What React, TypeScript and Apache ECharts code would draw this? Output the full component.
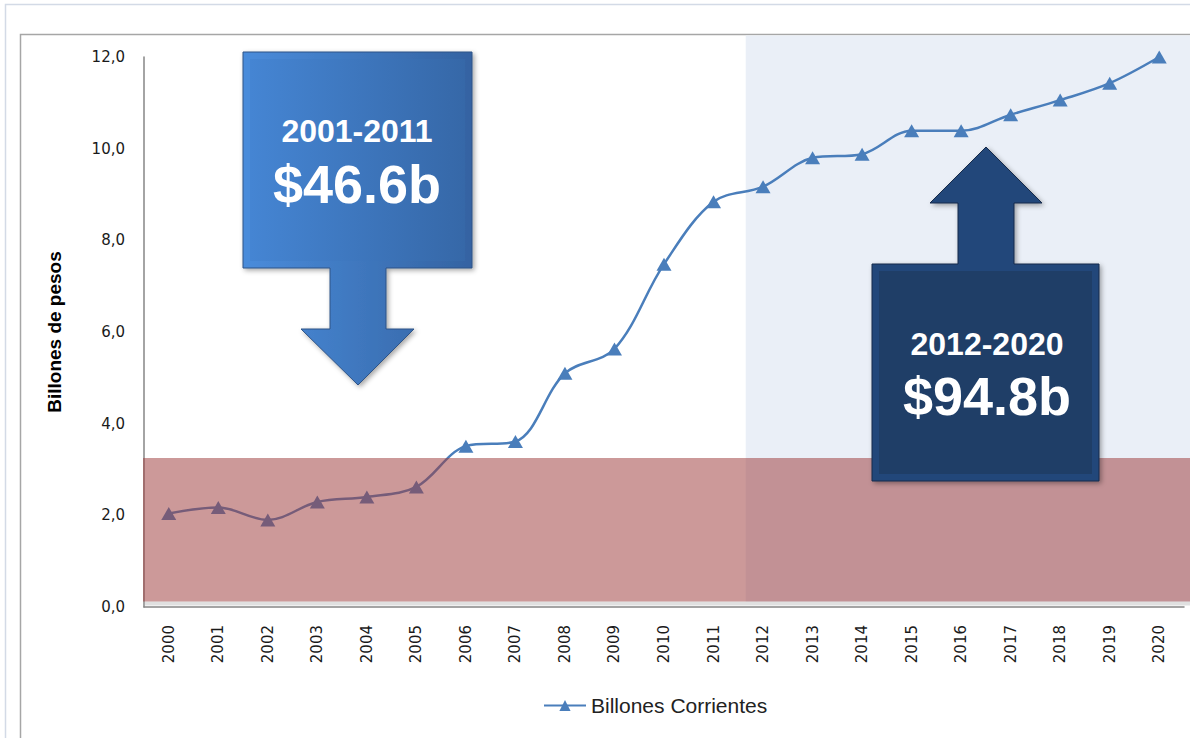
import React, { useEffect, useRef } from "react";
import * as echarts from "echarts";

const years = [
  "2000", "2001", "2002", "2003", "2004", "2005", "2006", "2007", "2008", "2009", "2010",
  "2011", "2012", "2013", "2014", "2015", "2016", "2017", "2018", "2019", "2020",
];
const billones = [
  2.04, 2.17, 1.9, 2.29, 2.4, 2.62, 3.51, 3.61, 5.1, 5.63, 7.48,
  8.84, 9.17, 9.8, 9.88, 10.39, 10.39, 10.74, 11.06, 11.43, 12.0,
];
const seriesName = "Billones Corrientes";
const yAxisTitle = "Billones de pesos";
const yTicks = { min: 0, max: 12, interval: 2 };
// annotation extents in data units
const bandRange = [0.12, 3.25];
const recentFromIndex = 11.65;
const leftLabel = ["2001-2011", "$46.6b"];
const rightLabel = ["2012-2020", "$94.8b"];

export default function App() {
  const ref = useRef<HTMLDivElement>(null);
  useEffect(() => {
    if (!ref.current) return;
    const chart = echarts.init(ref.current, undefined, { renderer: "svg" });
    const axisFont = { fontFamily: "DejaVu Sans", fontSize: 15, color: "#1a1a1a" };
    chart.setOption({
      animation: false,
      backgroundColor: "#ffffff",
      grid: { left: 144, right: 6, top: 57, bottom: 131 },
      legend: {
        data: [seriesName],
        left: 538,
        top: 690,
        itemWidth: 42,
        itemHeight: 14,
        textStyle: { fontFamily: "Liberation Sans", fontSize: 21, color: "#222" },
      },
      xAxis: {
        type: "category",
        data: years,
        boundaryGap: true,
        axisLine: { show: true, lineStyle: { color: "#868686", width: 1.5 } },
        axisTick: { show: false },
        axisLabel: { ...axisFont, rotate: 90, margin: 18, interval: 0 },
        splitLine: { show: false },
      },
      yAxis: {
        type: "value",
        min: yTicks.min,
        max: yTicks.max,
        interval: yTicks.interval,
        name: yAxisTitle,
        nameLocation: "middle",
        nameRotate: 90,
        nameGap: 80,
        nameTextStyle: { fontFamily: "Liberation Sans", fontWeight: "bold", fontSize: 19, color: "#000" },
        axisLine: { show: true, lineStyle: { color: "#868686", width: 1.5 } },
        axisTick: { show: false },
        splitLine: { show: false },
        axisLabel: {
          ...axisFont,
          margin: 19,
          formatter: (v: number) => v.toFixed(1).replace(".", ","),
        },
      },
      series: [
        {
          name: seriesName,
          type: "line",
          data: billones,
          smooth: 0.35,
          symbol: "triangle",
          symbolSize: [15, 13],
          z: 2,
          lineStyle: { color: "#4A7EBB", width: 2.5 },
          itemStyle: { color: "#4A7EBB" },
        },
      ],
    });

    // annotation positions derived from the axes
    const px = (i: number) => chart.convertToPixel({ xAxisIndex: 0 }, i) as number;
    const py = (v: number) => chart.convertToPixel({ yAxisIndex: 0 }, v) as number;
    const i0 = Math.floor(recentFromIndex);
    const blueLeft = px(i0) + (recentFromIndex - i0) * (px(i0 + 1) - px(i0));
    const bandTop = py(bandRange[1]);
    const bandBottom = py(bandRange[0]);
    const axisLeft = px(0) - (px(1) - px(0)) / 2;

    const white = { fill: "#ffffff", fontFamily: "Liberation Sans", fontWeight: "bold", align: "center", verticalAlign: "middle" };

    const downPts = [
      [243, 52], [472, 52], [472, 268], [386, 268], [386, 329], [414, 329],
      [358, 385], [301, 329], [330, 329], [330, 268], [243, 268],
    ];
    const upPts = [
      [872, 264], [958, 264], [958, 203], [930, 203], [986, 147], [1042, 203],
      [1014, 203], [1014, 264], [1099, 264], [1099, 481], [872, 481],
    ];

    chart.setOption({
      graphic: [
        {
          type: "rect", z: 0, silent: true,
          shape: { x: 5.5, y: 4.5, width: 1300, height: 900 },
          style: { fill: "none", stroke: "#D3DAE6", lineWidth: 1.5 },
        },
        {
          type: "rect", z: 0, silent: true,
          shape: { x: 20.5, y: 34.5, width: 1300, height: 900 },
          style: { fill: "none", stroke: "#A6A6A6", lineWidth: 1.5 },
        },
        {
          type: "rect", z: 0, silent: true,
          shape: { x: blueLeft, y: 35.5, width: 1190 - blueLeft, height: bandBottom - 35.5 },
          style: { fill: "#EAEFF7" },
        },
        {
          type: "rect", z: 9, silent: true,
          shape: { x: axisLeft + 1, y: bandBottom, width: 1190 - axisLeft, height: 4 },
          style: { fill: "rgba(0,0,0,0.12)" },
        },
        {
          type: "rect", z: 10, silent: true,
          shape: { x: axisLeft - 1, y: bandTop, width: 1190 - axisLeft + 1, height: bandBottom - bandTop },
          style: { fill: "rgba(158,62,62,0.53)" },
        },
        // down arrow callout
        {
          type: "polygon", z: 20, silent: true,
          shape: { points: downPts },
          style: {
            fill: new echarts.graphic.LinearGradient(0, 0, 1, 0, [
              { offset: 0, color: "#4A8CDB" },
              { offset: 1, color: "#3463A2" },
            ]),
            stroke: "#2E5386", lineWidth: 1,
            shadowBlur: 5, shadowOffsetX: 2, shadowOffsetY: 2, shadowColor: "rgba(0,0,0,0.35)",
          },
        },
        {
          type: "rect", z: 21, silent: true,
          shape: { x: 250, y: 59, width: 215, height: 202 },
          style: {
            fill: new echarts.graphic.LinearGradient(0, 0, 1, 0, [
              { offset: 0, color: "#4585D3" },
              { offset: 1, color: "#3668A8" },
            ]),
          },
        },
        {
          type: "text", z: 22, silent: true, x: 357, y: 131,
          style: { ...white, text: leftLabel[0], fontSize: 32 },
        },
        {
          type: "text", z: 22, silent: true, x: 357, y: 184,
          style: { ...white, text: leftLabel[1], fontSize: 54 },
        },
        // up arrow callout
        {
          type: "polygon", z: 20, silent: true,
          shape: { points: upPts },
          style: {
            fill: "#24477A", stroke: "#142B4A", lineWidth: 1,
            shadowBlur: 5, shadowOffsetX: 2, shadowOffsetY: 2, shadowColor: "rgba(0,0,0,0.35)",
          },
        },
        {
          type: "rect", z: 21, silent: true,
          shape: { x: 879, y: 271, width: 213, height: 203 },
          style: { fill: "#1F3E67" },
        },
        {
          type: "text", z: 22, silent: true, x: 987, y: 344,
          style: { ...white, text: rightLabel[0], fontSize: 32 },
        },
        {
          type: "text", z: 22, silent: true, x: 987, y: 396,
          style: { ...white, text: rightLabel[1], fontSize: 54 },
        },
      ],
    });
    return () => chart.dispose();
  }, []);
  return (
    <div
      ref={ref}
      style={{ position: "absolute", left: 0, top: 0, width: 1190, height: 738 }}
    />
  );
}
